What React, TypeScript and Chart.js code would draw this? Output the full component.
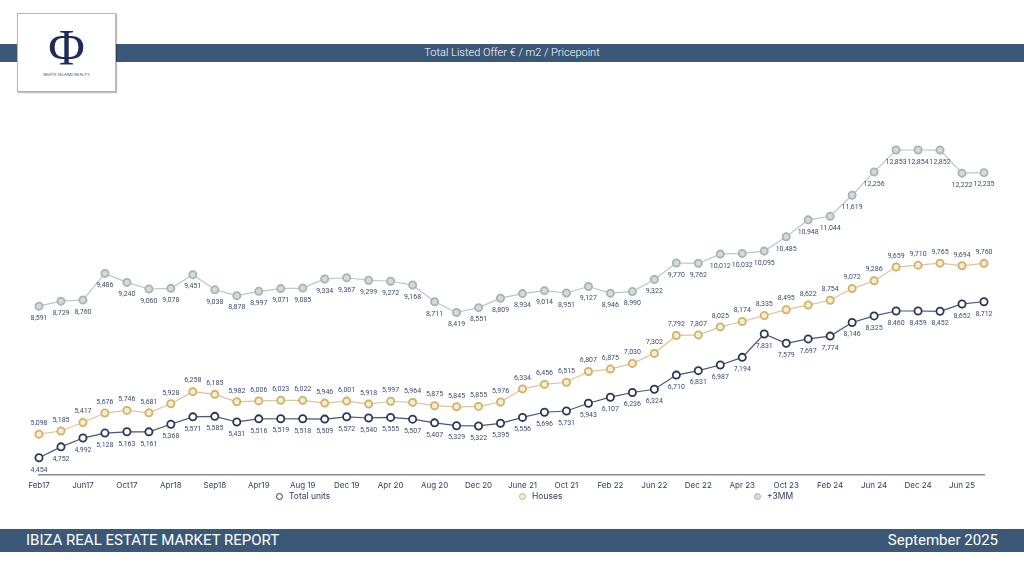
import React, { useEffect, useRef } from "react";
import { Chart, registerables } from "chart.js";

Chart.register(...registerables);

const categories = [
  "Feb17", "Apr17", "Jun17", "Aug17", "Oct17", "Dec17", "Apr18", "Jun18", "Sep18", "Dec18",
  "Apr19", "Jun19", "Aug 19", "Oct 19", "Dec 19", "Feb 20", "Apr 20", "Jun 20", "Aug 20", "Oct 20",
  "Dec 20", "Mar 21", "June 21", "Aug 21", "Oct 21", "Dec 21", "Feb 22", "Apr 22", "Jun 22", "Sep 22",
  "Dec 22", "Feb 23", "Apr 23", "Jul 23", "Oct 23", "Dec 23", "Feb 24", "Apr 24", "Jun 24", "Sep 24",
  "Dec 24", "Mar 25", "Jun 25", "Sep 25",
];

const totalUnits = [
  4454, 4752, 4992, 5128, 5163, 5161, 5368, 5571, 5585, 5431,
  5516, 5519, 5518, 5509, 5572, 5540, 5555, 5507, 5407, 5329,
  5322, 5395, 5556, 5696, 5731, 5943, 6107, 6236, 6324, 6710,
  6831, 6987, 7194, 7831, 7579, 7697, 7774, 8146, 8325, 8460,
  8459, 8452, 8652, 8712,
];

const houses = [
  5098, 5185, 5417, 5676, 5746, 5681, 5928, 6258, 6185, 5982,
  6006, 6023, 6022, 5946, 6001, 5918, 5997, 5964, 5875, 5845,
  5855, 5976, 6334, 6456, 6515, 6807, 6875, 7030, 7302, 7792,
  7807, 8025, 8174, 8335, 8495, 8622, 8754, 9072, 9286, 9659,
  9710, 9765, 9694, 9760,
];

const plus3MM = [
  8591, 8729, 8760, 9486, 9240, 9060, 9078, 9451, 9038, 8878,
  8997, 9071, 9085, 9334, 9367, 9299, 9272, 9168, 8711, 8419,
  8551, 8809, 8934, 9014, 8951, 9127, 8946, 8990, 9322, 9770,
  9762, 10012, 10032, 10095, 10485, 10948, 11044, 11619, 12256, 12853,
  12854, 12852, 12222, 12235,
];

const seriesNames = ["Total units", "Houses", "+3MM"];
const labelSide = ["below", "above", "below"];

const lineColors = ["#46567a", "#d8c79b", "#b9c7cc"];
const pointBorders = ["#2b3759", "#d2b163", "#a7b5b1"];
const pointFills = ["#ffffff", "#f4ecd4", "#d2dbd7"];

const FONT = "Inter, 'Noto Sans', sans-serif";
const LABEL_FONT = "Roboto, 'Noto Sans', sans-serif";

const valueLabelPlugin = {
  id: "valueLabels",
  afterDatasetsDraw(chart: any) {
    const ctx = chart.ctx;
    ctx.save();
    ctx.font = `7px ${LABEL_FONT}`;
    ctx.fillStyle = "#3a4a6e";
    ctx.textAlign = "center";
    ctx.textBaseline = "middle";
    chart.data.datasets.forEach((ds: any, i: number) => {
      const meta = chart.getDatasetMeta(i);
      meta.data.forEach((pt: any, j: number) => {
        const v = ds.data[j] as number;
        const txt = v.toLocaleString("en-US");
        const dy = labelSide[i] === "above" ? -11 : 12;
        ctx.fillText(txt, pt.x, pt.y + dy);
      });
    });
    ctx.restore();
  },
};

function ChartCanvas() {
  const ref = useRef<HTMLCanvasElement | null>(null);
  useEffect(() => {
    if (!ref.current) return;
    const seriesData = [totalUnits, houses, plus3MM];
    const chart = new Chart(ref.current, {
      type: "line",
      data: {
        labels: categories,
        datasets: seriesData.map((d, i) => ({
          label: seriesNames[i],
          data: d,
          borderColor: lineColors[i],
          borderWidth: 1.2,
          pointRadius: 3.6,
          pointBorderWidth: 1.8,
          pointBorderColor: pointBorders[i],
          pointBackgroundColor: pointFills[i],
          tension: 0,
          fill: false,
        })),
      },
      options: {
        animation: false,
        responsive: false,
        maintainAspectRatio: false,
        layout: { padding: { left: 39, right: 40, top: 8, bottom: 0 } },
        plugins: {
          legend: { display: false },
          tooltip: { enabled: false },
        },
        scales: {
          x: {
            offset: false,
            grid: { display: false, drawTicks: false },
            border: { display: true, color: "#8c8c8c", width: 1.5 },
            ticks: {
              autoSkip: false,
              maxRotation: 0,
              padding: 6,
              color: "#2e3d63",
              font: { family: FONT, size: 8 },
              callback: (_v: any, idx: number) => (idx % 2 === 0 ? categories[idx] : ""),
            },
          },
          y: {
            display: false,
            min: 4000,
            max: 14000,
          },
        },
      },
      plugins: [valueLabelPlugin],
    });
    return () => chart.destroy();
  }, []);
  return (
    <canvas
      ref={ref}
      width={1024}
      height={396}
      style={{ position: "absolute", left: 0, top: 100, width: 1024, height: 396 }}
    />
  );
}

const legendX = [276, 519, 754];

export default function App() {
  useEffect(() => {
    document.body.style.margin = "0";
  }, []);
  return (
    <div
      style={{
        position: "relative",
        width: 1024,
        height: 576,
        background: "#ffffff",
        overflow: "hidden",
        fontFamily: FONT,
      }}
    >
      <div
        style={{
          position: "absolute",
          left: 0,
          top: 44,
          width: 1024,
          height: 18,
          background: "#3b5877",
          color: "#ffffff",
          fontFamily: "Roboto, sans-serif",
          fontWeight: 300,
          fontSize: 11,
          lineHeight: "18px",
          textAlign: "center",
        }}
      >
        Total Listed Offer € / m2 / Pricepoint
      </div>
      <div
        style={{
          position: "absolute",
          left: 17,
          top: 13,
          width: 99,
          height: 79,
          background: "#ffffff",
          border: "1px solid #b5b5b5",
          boxShadow: "1px 1px 1px rgba(0,0,0,0.25)",
          boxSizing: "border-box",
        }}
      >
        <div
          style={{
            position: "absolute",
            left: 0,
            top: 6,
            width: "100%",
            textAlign: "center",
            fontFamily: "'Liberation Serif', 'DejaVu Serif', serif",
            fontSize: 50,
            lineHeight: "54px",
            color: "#1d2c5a",
          }}
        >
          Φ
        </div>
        <div
          style={{
            position: "absolute",
            left: 0,
            top: 58,
            width: "100%",
            textAlign: "center",
            fontSize: 4,
            color: "#2a3a66",
            letterSpacing: 0.1,
          }}
        >
          WHITE ISLAND REALTY
        </div>
      </div>
      <ChartCanvas />
      {seriesNames.map((n, i) => (
        <div
          key={n}
          style={{
            position: "absolute",
            left: legendX[i],
            top: 490,
            height: 12,
            display: "flex",
            alignItems: "center",
            fontSize: 8.5,
            color: "#2e3d63",
          }}
        >
          <span
            style={{
              display: "inline-block",
              width: 5,
              height: 5,
              borderRadius: "50%",
              border: `1.8px solid ${pointBorders[i]}`,
              background: pointFills[i],
              marginRight: 6,
            }}
          />
          {n}
        </div>
      ))}
      <div
        style={{
          position: "absolute",
          left: 0,
          top: 529,
          width: 1024,
          height: 23,
          background: "#3b5877",
          color: "#ffffff",
          fontFamily: "Roboto, sans-serif",
          fontSize: 15,
          lineHeight: "23px",
        }}
      >
        <span style={{ position: "absolute", left: 26 }}>IBIZA REAL ESTATE MARKET REPORT</span>
        <span style={{ position: "absolute", right: 26 }}>September 2025</span>
      </div>
    </div>
  );
}
